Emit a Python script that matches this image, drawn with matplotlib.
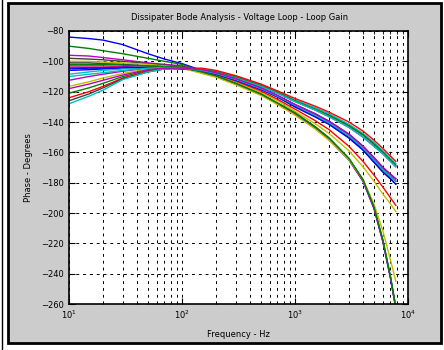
import matplotlib
matplotlib.use("Agg")
import matplotlib.pyplot as plt
from matplotlib.patches import Rectangle
from matplotlib.lines import Line2D

freq_hz = [10, 15, 20, 30, 50, 70, 100, 150, 200, 300, 500, 700, 1000,
           1500, 2000, 3000, 4000, 5000, 6000, 7000, 7800]

# phase (degrees) of each loop-gain curve at the frequencies above
phase_curves = [
    [-84, -85, -86, -89, -95, -98.5, -101.5, -106, -109.5, -115, -122, -128, -135, -144, -151.5, -165, -179, -197, -219, -243, -263],
    [-90, -91.5, -93, -95, -98, -100, -102, -107, -109.5, -114.5, -121.5, -127.5, -134, -143, -150.5, -164, -178, -196, -218, -242, -262],
    [-96, -96.5, -97.5, -99, -101, -102, -103, -107.5, -110, -115, -122, -128, -135, -144, -151.5, -165, -179, -197, -219, -243, -263],
    [-98, -98.5, -99, -100, -101.5, -102.5, -103.5, -106, -108, -112, -118, -123, -129, -135.5, -140.5, -149, -157, -165, -171.5, -176, -179],
    [-100, -100, -100.5, -101, -102, -103, -104, -107, -109, -113.5, -120.5, -126, -133, -141, -147.5, -159, -169.5, -179, -187.5, -194, -199],
    [-101, -101, -101.5, -102, -103, -103.5, -104, -106.5, -108.5, -112.5, -118.5, -123.5, -130, -136.5, -141.5, -150.5, -158.5, -166.5, -173, -177.5, -181],
    [-103, -103, -103, -103.5, -104, -104, -104.5, -105.5, -107, -110.5, -116, -120.5, -126, -131.5, -135.5, -142.5, -148.5, -154.5, -160, -165, -168.5],
    [-104, -104, -104, -104, -104.5, -104.5, -105, -106.5, -108.5, -113, -119.5, -125, -131.5, -139, -145, -156, -166, -175, -183, -190, -195],
    [-106, -105.5, -105, -104.5, -104.5, -104.5, -105, -105.5, -107.5, -111.5, -117.5, -122.5, -128.5, -134.5, -139.5, -148, -156, -163.5, -170, -174.5, -177.5],
    [-108.5, -107, -106, -105, -104, -104, -104.5, -105, -106.5, -110, -115.5, -120, -125.5, -130.5, -134.5, -141.5, -147.5, -153.5, -159, -164, -167.5],
    [-112.5, -110, -108.5, -106.5, -104.5, -104, -104.5, -106, -107.5, -111, -116.5, -121, -126.5, -132, -136.5, -143.5, -150, -156, -161, -166, -169.5],
    [-116.5, -113.5, -111, -108, -105, -104, -104.5, -108, -110.5, -115.5, -122.5, -128.5, -135.5, -144.5, -152, -165, -178, -194, -212, -231, -245],
    [-121, -117.5, -114.5, -110, -106, -104.5, -104.5, -105.5, -107, -110.5, -116, -120.5, -126, -131.5, -135.5, -142.5, -148.5, -154.5, -160, -165, -168.5],
    [-124, -120, -116.5, -111, -106.5, -105, -104.5, -104.5, -106, -109.5, -115, -119.5, -124.5, -129.5, -133.5, -140, -146, -152, -157.5, -162.5, -166],
    [-126, -121.5, -117.5, -111.5, -107, -105, -104.5, -106, -108, -112, -118, -123, -129, -135.5, -140.5, -149, -157, -165, -171.5, -176, -179],
    [-128, -123, -119, -112, -107, -105, -104.5, -106, -107.5, -111, -116.5, -121, -126.5, -132, -136.5, -143.5, -150, -156, -161, -166, -169.5],
    [-105, -104.5, -104.5, -104, -104, -104, -104.5, -106.5, -108.5, -112.5, -118.5, -123.5, -130, -136.5, -141.5, -150.5, -158.5, -166.5, -173, -177.5, -181],
    [-102, -102, -102, -102.5, -103, -103.5, -104, -107, -109.5, -114.5, -121.5, -127.5, -134, -143, -150.5, -164, -178, -196, -218, -242, -262],
    [-110, -108.5, -107.5, -106, -104.5, -104, -104.5, -106, -108, -112, -118, -123, -129, -135.5, -140.5, -149, -157, -165, -171.5, -176, -179],
    [-118, -115, -112.5, -109, -105.5, -104.5, -104.5, -105.5, -107.5, -111.5, -117.5, -122.5, -128.5, -134.5, -139.5, -148, -156, -163.5, -170, -174.5, -177.5],
]

curve_colors = ["#0000ff", "#008000", "#bf00bf", "#404040", "#bfbf00", "#404040", "#bf00bf",
                "#ff0000", "#0000ff", "#00bfbf", "#bf00bf", "#bfbf00", "#008000", "#ff0000",
                "#404040", "#00bfbf", "#0000ff", "#008000", "#00bfbf", "#bf00bf"]

ytick_vals = list(range(-260, -79, 20))

fig = plt.figure(figsize=(4.44, 3.5), dpi=100, facecolor="white")

# gray panel with black frame, like the old MATLAB figure window
fig.patches.append(Rectangle((8/444, 1-343/350), 433/444, 340/350, transform=fig.transFigure,
                             facecolor="#cccccc", edgecolor="black", lw=2, zorder=-10))
fig.lines.append(Line2D([1.5/444, 1.5/444], [0, 1], transform=fig.transFigure,
                        color="black", lw=1, zorder=-10))

ax = fig.add_axes([69/444, 1-304/350, (408-69)/444, (304-31)/350])
ax.set_facecolor("white")

for phase, col in zip(phase_curves, curve_colors):
    ax.plot(freq_hz, phase, color=col, lw=1.0)

ax.set_xscale("log")
ax.set_xlim(10, 1e4)
ax.set_ylim(-260, -80)
ax.set_yticks(ytick_vals)

ax.grid(True, which="major", axis="both", color="black", linestyle=(0, (3, 4)), lw=0.7)
ax.grid(True, which="minor", axis="x", color="black", linestyle=(0, (3, 4)), lw=0.7)
ax.tick_params(which="both", direction="in", top=True, right=True, labelsize=6, color="black")
ax.tick_params(which="major", length=4)
ax.tick_params(which="minor", length=2)
for s in ax.spines.values():
    s.set_linewidth(1.2)

fig.text(240/444, 1-18/350, "Dissipater Bode Analysis - Voltage Loop - Loop Gain",
         ha="center", va="center", fontsize=6)
ax.set_xlabel("Frequency - Hz", fontsize=6, labelpad=6)
ax.set_ylabel("Phase - Degrees", fontsize=6, labelpad=6)

fig.savefig("out.png", dpi=100, facecolor=fig.get_facecolor())
